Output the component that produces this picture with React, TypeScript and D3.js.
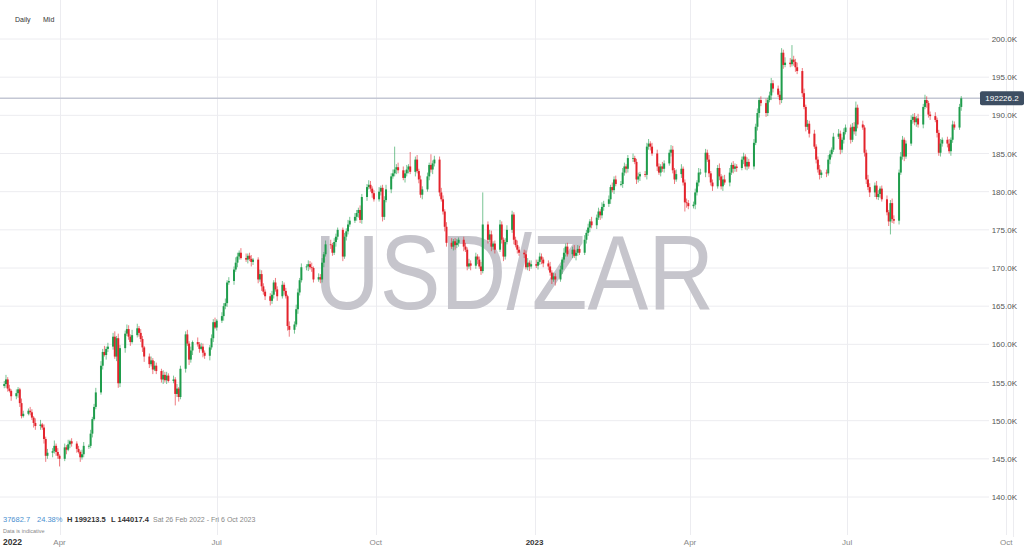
import React, { useEffect, useRef } from 'react';
import * as d3 from 'd3';

// USD/ZAR daily mid closes, shown in thousands (quote x 10000), weekdays from Mon 28 Feb 2022
const closes = [
  154.8, 155.4, 154.2, 153.9, 153.2, 153.6, 154.1, 152.3, 150.6, 150.9,
  151.3, 151.1, 150.4, 149.7, 149.3, 149.5, 149.1, 147.6, 145.4, 145.8,
  146.0, 146.7, 145.9, 145.4, 145.0, 146.5, 146.2, 146.9, 147.3, 147.0,
  146.3, 145.9, 145.2, 145.6, 146.7, 146.7, 148.3, 150.2, 151.8, 153.7,
  157.2, 159.0, 158.6, 159.4, 159.7, 161.0, 158.4, 160.8, 154.9, 159.5,
  161.4, 162.0, 161.0, 160.3, 161.2, 162.1, 161.5, 160.7, 159.6, 158.4,
  157.4, 157.9, 156.7, 157.2, 156.5, 155.4, 156.0, 155.3, 155.9, 155.2,
  155.4, 153.5, 154.2, 153.1, 156.8, 161.3, 160.1, 158.0, 159.2, 160.3,
  160.0, 159.4, 159.7, 158.9, 158.5, 159.6, 160.8, 162.9, 162.2, 163.1,
  163.7, 165.0, 165.4, 168.1, 168.3, 169.8, 170.7, 171.5, 172.0, 171.3,
  171.1, 171.6, 171.2, 170.8, 171.1, 168.5, 169.2, 167.6, 166.9, 166.3,
  165.7, 166.5, 168.1, 167.2, 166.3, 167.8, 167.0, 166.3, 162.4, 161.9,
  162.6, 164.6, 166.8, 168.4, 170.1, 170.2, 170.5, 170.1, 170.0, 168.5,
  168.8, 168.5, 170.7, 171.8, 173.1, 173.0, 172.0, 173.4, 174.1, 175.0,
  171.5, 174.1, 174.8, 175.7, 176.2, 176.7, 177.2, 177.6, 176.3, 179.3,
  180.6, 180.9, 180.4, 179.8, 179.0, 180.0, 180.5, 176.7, 178.9, 180.3,
  182.0, 182.4, 182.9, 183.2, 182.8, 181.8, 182.4, 182.9, 183.3, 182.6,
  184.2, 182.7, 181.6, 179.6, 180.3, 182.0, 183.5, 182.9, 183.7, 184.2,
  179.9, 179.0, 177.4, 175.4, 173.3, 172.8, 173.5, 173.0, 173.3, 173.7,
  172.8, 172.4, 170.2, 170.6, 170.3, 171.5, 171.1, 170.2, 169.6, 175.7,
  173.7, 174.4, 172.8, 173.2, 172.4, 175.7, 173.7, 171.5, 173.4, 175.0,
  177.0, 173.7, 173.0, 172.4, 172.0, 171.8, 170.1, 170.7, 170.2, 170.5,
  170.3, 170.8, 171.5, 171.1, 170.6, 170.2, 169.4, 168.5, 168.9, 168.5,
  169.8, 171.1, 172.0, 172.8, 171.8, 172.4, 171.6, 172.0, 172.5, 172.0,
  173.7, 174.6, 175.3, 176.1, 175.6, 176.6, 177.4, 176.9, 178.0, 178.4,
  179.0, 180.6, 180.2, 181.6, 181.0, 181.0, 182.5, 183.3, 183.0, 184.4,
  184.4, 183.9, 181.6, 182.0, 182.3, 182.2, 185.9, 186.3, 185.9, 185.0,
  183.3, 182.5, 183.3, 183.0, 183.7, 185.1, 185.5, 182.8, 181.6, 182.3,
  183.0, 181.2, 178.6, 178.5, 178.1, 178.3, 179.9, 181.2, 182.5, 182.5,
  185.1, 184.2, 182.4, 181.2, 180.7, 183.1, 182.0, 180.7, 181.6, 181.2,
  182.5, 183.5, 183.0, 183.3, 183.1, 184.2, 184.6, 183.3, 183.9, 183.3,
  186.4, 188.5, 190.3, 192.0, 191.6, 190.3, 192.0, 192.6, 194.2, 193.5,
  192.7, 192.0, 198.2, 196.6, 196.9, 196.7, 197.3, 197.0, 196.3, 195.8,
  192.9, 191.1, 188.5, 188.9, 187.6, 185.9, 184.2, 182.9, 182.2, 182.5,
  182.4, 184.2, 184.9, 185.5, 187.2, 187.6, 185.5, 186.8, 187.8, 188.4,
  186.8, 188.5, 187.9, 191.0, 188.8, 188.4, 185.1, 181.6, 180.6, 179.9,
  180.8, 179.3, 179.7, 180.4, 179.0, 177.3, 176.1, 178.5, 176.4, 176.2,
  182.5, 184.6, 186.8, 184.6, 186.3, 189.4, 189.8, 189.1, 189.6, 188.8,
  191.1, 192.0, 191.6, 190.1, 189.9, 189.4, 187.7, 185.1, 186.3, 186.8,
  186.3, 185.3, 186.8, 188.8, 188.4, 191.1, 192.2262,
];

// wick lengths above / below the body, in tenths of 1K
const upperWicks = [
  4, 6, 3, 5, 2, 5, 3, 2, 6, 4,  3, 5, 4, 2, 6, 6, 2, 4, 3, 5,
  4, 7, 3, 5, 2, 5, 3, 6, 2, 4,  3, 4, 2, 6, 5, 2, 5, 3, 4, 6,
  6, 4, 8, 3, 5, 5, 7, 3, 6, 4,  4, 6, 5, 3, 7, 6, 3, 5, 4, 2,
  4, 5, 3, 6, 4, 3, 6, 4, 5, 3,  5, 3, 6, 2, 4, 4, 6, 3, 5, 2,
  6, 3, 5, 4, 3, 3, 5, 4, 6, 2,  5, 4, 6, 3, 5, 4, 7, 5, 3, 6,
  6, 3, 4, 5, 2, 3, 6, 5, 4, 3,  4, 5, 3, 6, 4, 5, 3, 4, 2, 6,
  4, 6, 5, 3, 5, 3, 5, 4, 6, 2,  5, 4, 6, 3, 5, 6, 3, 5, 4, 3,
  3, 5, 4, 6, 5, 5, 4, 3, 6, 4,  4, 6, 5, 3, 4, 6, 3, 4, 5, 6,
  4, 5, 30, 4, 6, 5, 4, 6, 3, 19, 4, 6, 3, 5, 4, 5, 3, 14, 4, 5,
  4, 6, 5, 3, 6, 6, 3, 4, 5, 3,  4, 5, 3, 6, 4, 5, 3, 4, 6, 42,
  4, 6, 5, 3, 4, 6, 4, 3, 5, 6,  5, 3, 4, 6, 4, 4, 5, 6, 3, 5,
  6, 3, 5, 4, 3, 4, 6, 3, 5, 4,  5, 3, 6, 4, 5, 4, 6, 3, 5, 4,
  6, 4, 5, 3, 6, 4, 5, 3, 6, 4,  5, 3, 6, 4, 5, 4, 6, 5, 3, 4,
  6, 3, 4, 5, 3, 4, 5, 6, 3, 5,  5, 4, 3, 6, 4, 4, 6, 5, 3, 6,
  6, 3, 4, 5, 4, 4, 5, 3, 6, 5,  5, 4, 6, 3, 4, 4, 6, 3, 5, 6,
  6, 3, 5, 4, 3, 4, 5, 3, 6, 4,  5, 4, 6, 3, 5, 6, 3, 5, 7, 4,
  4, 5, 6, 4, 7, 6, 19, 5, 4, 6, 4, 6, 3, 5, 4, 5, 3, 4, 6, 3,
  4, 6, 5, 3, 5, 6, 4, 3, 5, 4,  4, 5, 6, 8, 4, 5, 3, 4, 6, 5,
  4, 6, 5, 3, 4, 5, 3, 4, 6, 5,  4, 6, 5, 3, 4, 6, 4, 5, 3, 6,
  4, 7, 5, 3, 4, 5, 3, 4, 6, 3,  4, 6, 3, 5, 4, 4, 3,
];

const lowerWicks = [
  3, 5, 4, 2, 6, 4, 6, 5, 3, 2,  2, 4, 3, 6, 5, 5, 3, 6, 8, 4,
  6, 3, 5, 4, 10, 3, 6, 2, 5, 4, 5, 2, 6, 3, 4, 4, 3, 5, 2, 3,
  3, 5, 2, 6, 4, 4, 3, 6, 6, 5,  6, 3, 4, 5, 2, 3, 5, 4, 6, 7,
  5, 3, 6, 2, 4, 4, 6, 3, 5, 2,  3, 15, 4, 6, 3, 5, 3, 7, 4, 6,
  3, 5, 2, 6, 4, 6, 3, 5, 2, 4,  3, 6, 4, 5, 3, 5, 3, 6, 4, 2,
  3, 5, 3, 6, 4, 5, 3, 6, 4, 5,  6, 4, 5, 3, 6, 3, 5, 3, 6, 9,
  5, 3, 6, 4, 3, 4, 6, 3, 5, 4,  3, 5, 4, 6, 3, 5, 4, 3, 6, 4,
  6, 3, 5, 4, 3, 3, 5, 6, 4, 5,  5, 3, 4, 6, 3, 3, 5, 6, 4, 3,
  5, 3, 4, 6, 4, 3, 6, 4, 5, 3,  6, 3, 5, 4, 6, 3, 5, 4, 6, 4,
  5, 3, 4, 6, 5, 3, 5, 6, 4, 5,  6, 3, 5, 3, 6, 4, 6, 3, 5, 3,
  5, 3, 6, 4, 5, 3, 5, 6, 4, 3,  4, 6, 3, 5, 4, 5, 3, 4, 6, 3,
  3, 5, 4, 6, 5, 5, 4, 6, 3, 8,  3, 6, 4, 5, 3, 5, 3, 6, 4, 3,
  3, 5, 4, 6, 4, 5, 3, 6, 4, 5,  4, 6, 3, 5, 3, 3, 5, 4, 6, 5,
  5, 3, 6, 4, 6, 3, 6, 4, 5, 3,  6, 3, 5, 4, 5, 3, 5, 4, 6, 3,
  5, 4, 12, 6, 4, 3, 6, 4, 5, 3, 6, 3, 5, 4, 6, 3, 5, 4, 6, 3,
  5, 3, 6, 4, 5, 3, 6, 4, 5, 3,  4, 3, 5, 6, 4, 5, 4, 3, 6, 5,
  3, 6, 4, 5, 3, 4, 3, 5, 6, 4,  5, 3, 6, 4, 5, 3, 5, 4, 6, 4,
  5, 3, 6, 4, 3, 3, 6, 4, 5, 3,  5, 3, 4, 6, 5, 3, 5, 6, 4, 6,
  6, 3, 4, 5, 3, 4, 6, 17, 5, 4, 5, 3, 4, 6, 3, 3, 5, 4, 6, 4,
  5, 3, 6, 4, 5, 3, 6, 4, 5, 4,  5, 3, 6, 4, 3, 3, 5,
];

const firstOpen = 154.5435;
const priceTicks = [140, 145, 150, 155, 160, 165, 170, 175, 180, 185, 190, 195, 200];
const quarterLabels = ['Apr', 'Jul', 'Oct', '2023', 'Apr', 'Jul', 'Oct'];
const yearLabels = ['2022', '2023'];
const lastPriceLabel = '192226.2';
const changeLabel = '37682.7';
const changePctLabel = '24.38%';
const highLabel = 'H 199213.5';
const lowLabel = 'L 144017.4';
const rangeLabel = 'Sat 26 Feb 2022 - Fri 6 Oct 2023';

const WIDTH = 1024;
const HEIGHT = 548;

export default function App() {
  const svgRef = useRef<SVGSVGElement>(null);

  useEffect(() => {
    if (!svgRef.current) return;
    const svg = d3.select(svgRef.current);
    svg.selectAll('*').remove();

    const font = '"Liberation Sans", Arial, sans-serif';
    const up = '#1f9d4c';
    const down = '#e3232c';

    const x = d3.scaleUtc()
      .domain([new Date(Date.UTC(2022, 1, 26)), new Date(Date.UTC(2023, 9, 6))])
      .range([0.8, 1014.8]);
    const y = d3.scaleLinear().domain([140, 200]).range([497, 39]);

    // weekday dates for the candles
    const dates: Date[] = [];
    let day = new Date(Date.UTC(2022, 1, 28));
    while (dates.length < closes.length) {
      const wd = day.getUTCDay();
      if (wd !== 0 && wd !== 6) dates.push(day);
      day = d3.utcDay.offset(day, 1);
    }

    const candles = closes.map((c, i) => {
      const o = i === 0 ? firstOpen : closes[i - 1];
      return {
        date: dates[i],
        o,
        c,
        h: Math.max(o, c) + upperWicks[i] / 10,
        l: Math.min(o, c) - lowerWicks[i] / 10,
      };
    });

    svg.append('rect').attr('width', WIDTH).attr('height', HEIGHT).attr('fill', '#fff');

    // grid
    svg.append('g')
      .selectAll('line')
      .data(priceTicks)
      .join('line')
      .attr('x1', 0)
      .attr('x2', 989)
      .attr('y1', d => y(d))
      .attr('y2', d => y(d))
      .attr('stroke', '#ececf0')
      .attr('stroke-width', 1);

    const qTicks = x.ticks(d3.utcMonth.every(3)!);
    svg.append('g')
      .selectAll('line')
      .data(qTicks)
      .join('line')
      .attr('x1', d => Math.round(x(d)) + 0.5)
      .attr('x2', d => Math.round(x(d)) + 0.5)
      .attr('y1', 0)
      .attr('y2', 535)
      .attr('stroke', '#ececf0');

    svg.append('line')
      .attr('x1', 1013.5).attr('x2', 1013.5)
      .attr('y1', 0).attr('y2', 537)
      .attr('stroke', '#ececf0');

    // watermark
    svg.append('text')
      .attr('x', 314)
      .attr('y', 309)
      .attr('font-family', font)
      .attr('font-size', 106)
      .attr('textLength', 400)
      .attr('lengthAdjust', 'spacingAndGlyphs')
      .attr('fill', '#c6c5cc')
      .text('USD/ZAR');

    // last price line
    const lastY = y(closes[closes.length - 1]);
    svg.append('line')
      .attr('x1', 0).attr('x2', 981)
      .attr('y1', lastY).attr('y2', lastY)
      .attr('stroke', '#c4c7d4')
      .attr('stroke-width', 1.5);

    // candles
    const g = svg.append('g');
    g.selectAll('line')
      .data(candles)
      .join('line')
      .attr('x1', d => x(d.date))
      .attr('x2', d => x(d.date))
      .attr('y1', d => y(d.h))
      .attr('y2', d => y(d.l))
      .attr('stroke', d => (d.c >= d.o ? up : down))
      .attr('stroke-opacity', 0.6)
      .attr('stroke-width', 1);

    g.selectAll('rect')
      .data(candles)
      .join('rect')
      .attr('x', d => x(d.date) - 1)
      .attr('width', 2)
      .attr('y', d => y(Math.max(d.o, d.c)))
      .attr('height', d => Math.max(0.8, Math.abs(y(d.o) - y(d.c))))
      .attr('fill', d => (d.c >= d.o ? up : down));

    // price axis labels
    svg.append('g')
      .selectAll('text')
      .data(priceTicks)
      .join('text')
      .attr('x', 1017)
      .attr('y', d => y(d) + 3)
      .attr('text-anchor', 'end')
      .attr('font-family', font)
      .attr('font-size', 8)
      .attr('fill', '#555')
      .text(d => `${d.toFixed(1)}K`);

    // current price tag
    svg.append('rect')
      .attr('x', 980).attr('y', lastY - 7)
      .attr('width', 44).attr('height', 14)
      .attr('rx', 2)
      .attr('fill', '#3d4e62');
    svg.append('text')
      .attr('x', 1002).attr('y', lastY + 3)
      .attr('text-anchor', 'middle')
      .attr('font-family', font)
      .attr('font-size', 8)
      .attr('fill', '#fff')
      .text(lastPriceLabel);

    // time axis labels
    svg.append('g')
      .selectAll('text')
      .data(qTicks)
      .join('text')
      .attr('x', d => x(d))
      .attr('y', 545)
      .attr('text-anchor', 'middle')
      .attr('font-family', font)
      .attr('font-size', 8)
      .attr('font-weight', (_, i) => (yearLabels.includes(quarterLabels[i]) ? 'bold' : 'normal'))
      .attr('fill', (_, i) => (yearLabels.includes(quarterLabels[i]) ? '#333' : '#888'))
      .text((_, i) => quarterLabels[i]);
    svg.append('text')
      .attr('x', 3).attr('y', 545)
      .attr('font-family', font)
      .attr('font-size', 8.5)
      .attr('font-weight', 'bold')
      .attr('fill', '#333')
      .text(yearLabels[0]);

    // header
    svg.append('text').attr('x', 15).attr('y', 22)
      .attr('font-family', font).attr('font-size', 7).attr('fill', '#333').text('Daily');
    svg.append('text').attr('x', 43).attr('y', 22)
      .attr('font-family', font).attr('font-size', 7).attr('fill', '#333').text('Mid');

    // footer summary
    const footer = [
      { t: changeLabel, x: 3, c: '#4a8fd0', w: 'normal' },
      { t: changePctLabel, x: 37, c: '#4a8fd0', w: 'normal' },
      { t: highLabel, x: 67, c: '#333', w: 'bold' },
      { t: lowLabel, x: 111, c: '#333', w: 'bold' },
    ];
    svg.append('g')
      .selectAll('text')
      .data(footer)
      .join('text')
      .attr('x', d => d.x)
      .attr('y', 522)
      .attr('font-family', font)
      .attr('font-size', 7.5)
      .attr('font-weight', d => d.w)
      .attr('fill', d => d.c)
      .text(d => d.t);
    svg.append('text').attr('x', 153).attr('y', 522)
      .attr('font-family', font).attr('font-size', 7).attr('fill', '#888').text(rangeLabel);
    svg.append('text').attr('x', 3).attr('y', 533)
      .attr('font-family', font).attr('font-size', 5.5).attr('fill', '#888').text('Data is indicative');
  }, []);

  return (
    <svg
      ref={svgRef}
      width={WIDTH}
      height={HEIGHT}
      style={{ position: 'absolute', left: 0, top: 0, display: 'block' }}
    />
  );
}
